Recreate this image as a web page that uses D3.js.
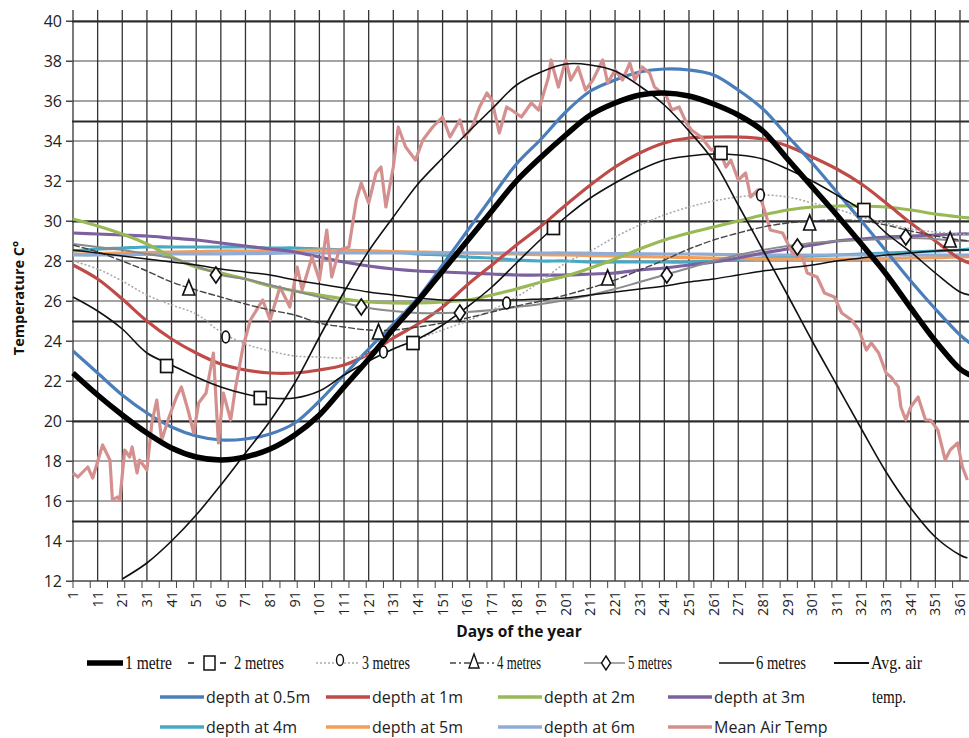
<!DOCTYPE html>
<html><head><meta charset="utf-8">
<script src="https://cdn.jsdelivr.net/npm/d3@7"></script>
<style>body{margin:0;background:#fff}svg{display:block}</style>
</head><body>
<svg id="chart" width="969" height="738"></svg>
<script>
// ---------- DATA ----------
const days = [1,11,21,31,41,51,61,71,81,91,101,111,121,131,141,151,161,171,181,191,201,211,221,231,241,251,261,271,281,291,301,311,321,331,341,351,361,365];
const depth05 = [23.5,22.4,21.3,20.4,19.7,19.25,19.05,19.1,19.35,19.9,21.0,22.3,23.6,24.85,26.15,27.8,29.5,31.2,32.85,34.1,35.45,36.5,37.05,37.45,37.6,37.55,37.3,36.55,35.6,34.25,32.9,31.45,30.0,28.5,27.0,25.6,24.3,23.9];
const depth1 = [27.8,27.1,26.1,25.0,24.1,23.4,22.85,22.55,22.4,22.4,22.55,22.8,23.35,24.15,24.85,25.7,26.8,27.8,28.8,29.75,30.8,31.8,32.7,33.4,33.9,34.15,34.2,34.2,34.1,33.75,33.2,32.6,31.85,30.9,29.9,29.0,28.1,27.9];
const depth2 = [30.1,29.75,29.35,28.85,28.2,27.7,27.4,27.1,26.75,26.5,26.3,26.1,25.95,25.9,25.9,25.95,26.05,26.3,26.6,26.95,27.25,27.65,28.1,28.6,29.05,29.4,29.7,30.0,30.3,30.55,30.7,30.75,30.75,30.7,30.55,30.35,30.2,30.15];
const depth3 = [29.4,29.35,29.3,29.25,29.15,29.05,28.9,28.75,28.6,28.45,28.2,27.95,27.75,27.6,27.5,27.45,27.4,27.35,27.3,27.3,27.3,27.35,27.4,27.55,27.65,27.8,27.95,28.15,28.4,28.6,28.8,29.0,29.1,29.2,29.25,29.3,29.35,29.35];
const depth4 = [28.5,28.6,28.65,28.7,28.7,28.7,28.7,28.7,28.65,28.65,28.6,28.55,28.5,28.45,28.35,28.3,28.2,28.15,28.05,28.0,28.0,27.95,27.95,27.95,27.95,27.95,28.0,28.05,28.15,28.2,28.25,28.3,28.35,28.4,28.45,28.5,28.55,28.6];
const depth5 = [28.35,28.37,28.4,28.42,28.45,28.47,28.5,28.5,28.5,28.52,28.55,28.52,28.5,28.47,28.45,28.42,28.4,28.37,28.35,28.32,28.3,28.27,28.25,28.22,28.2,28.17,28.15,28.12,28.1,28.1,28.1,28.1,28.1,28.12,28.15,28.17,28.2,28.2];
const depth6 = [28.3,28.3,28.32,28.33,28.35,28.35,28.36,28.37,28.38,28.4,28.4,28.4,28.4,28.4,28.4,28.4,28.4,28.4,28.4,28.4,28.4,28.38,28.37,28.36,28.35,28.35,28.33,28.32,28.3,28.3,28.3,28.3,28.3,28.3,28.3,28.3,28.3,28.3];

const airDays = [1,3,7,9,13,16,17,19,20,22,24,25,27,28,31,33,35,37,40,43,45,48,50,52,55,58,60,62,65,67,70,73,78,81,85,89,92,94,98,101,104,106,109,113,116,118,121,124,126,128,131,133,136,140,143,147,151,154,158,160,163,166,169,171,174,177,179,183,187,190,194,195,198,201,203,206,209,212,216,218,221,224,227,229,232,235,237,242,244,247,250,252,256,260,263,266,268,271,274,276,279,282,284,289,293,297,299,303,306,310,313,317,320,323,325,328,331,333,336,337,339,341,344,347,349,352,355,357,360,362,364];
const airTemp = [17.4,17.2,17.7,17.15,18.8,18.05,16.05,16.2,16.05,18.55,18.2,18.7,17.4,18.05,17.55,19.9,21.05,19.05,20.2,21.2,21.7,20.4,19.4,20.9,21.4,23.4,18.9,21.4,20.05,21.7,23.7,25.05,26.05,25.05,26.7,25.7,27.7,26.55,28.2,27.05,29.55,27.2,28.55,28.7,31.05,31.9,30.9,32.4,32.7,30.7,32.7,34.7,33.7,33.05,34.05,34.7,35.2,34.2,35.05,34.2,34.7,35.7,36.4,36.05,34.4,35.7,35.55,35.2,35.9,35.55,37.2,38.05,36.7,38.05,37.05,37.7,36.55,37.05,38.05,36.9,37.55,37.05,37.9,37.05,37.7,37.4,36.7,36.2,35.55,35.7,34.9,34.55,34.2,33.55,33.7,32.7,33.05,32.05,32.4,31.2,31.55,30.4,29.55,29.4,28.4,28.2,27.4,27.2,26.4,26.2,25.4,25.05,24.55,23.55,23.9,23.4,22.4,22.2,21.7,20.7,20.05,20.7,21.2,20.05,20.05,19.55,18.05,18.55,18.9,17.7,17.05];

// scanned (overlay) curves
const metre1 = [22.4,21.3,20.3,19.4,18.65,18.2,18.05,18.2,18.6,19.3,20.3,21.7,23.1,24.6,26.0,27.5,29.0,30.5,32.0,33.2,34.3,35.3,35.9,36.3,36.4,36.25,35.85,35.3,34.5,33.1,31.7,30.3,28.85,27.35,25.65,24.0,22.6,22.3];
const metre2 = [26.2,25.5,24.6,23.4,22.8,22.2,21.7,21.35,21.15,21.15,21.5,22.3,23.0,23.6,24.1,24.8,25.7,26.7,27.9,29.1,30.2,31.15,31.9,32.55,33.05,33.25,33.35,33.3,33.1,32.6,32.0,31.3,30.55,29.4,28.45,27.4,26.45,26.3];
const metre3 = [28.0,27.6,27.0,26.3,25.8,25.35,24.45,23.85,23.5,23.25,23.2,23.15,23.3,23.6,24.1,24.55,25.0,25.55,26.2,27.0,27.9,28.5,29.2,29.8,30.3,30.7,31.0,31.2,31.3,31.2,30.9,30.6,30.2,29.9,29.6,29.45,29.35,29.3];
const metre4 = [28.8,28.45,28.0,27.5,26.95,26.55,26.2,25.85,25.55,25.3,24.9,24.7,24.55,24.55,24.7,24.9,25.15,25.45,25.75,26.0,26.3,26.65,27.05,27.55,28.05,28.6,29.05,29.4,29.7,29.9,30.0,30.05,30.0,29.8,29.5,29.25,29.05,29.0];
const metre5 = [28.85,28.7,28.55,28.35,28.15,27.75,27.3,27.1,26.8,26.5,26.2,25.9,25.65,25.5,25.4,25.4,25.45,25.55,25.7,25.85,26.05,26.3,26.6,26.95,27.3,27.65,28.0,28.3,28.55,28.75,28.9,29.0,29.05,29.1,29.15,29.1,29.0,29.0];
const metre6 = [28.55,28.4,28.25,28.1,27.95,27.8,27.6,27.45,27.3,27.05,26.85,26.65,26.45,26.3,26.15,26.05,26.05,26.05,26.05,26.1,26.15,26.3,26.45,26.6,26.75,26.95,27.1,27.3,27.5,27.65,27.8,28.0,28.15,28.3,28.4,28.5,28.55,28.55];
const avgAirDays = [21,31,41,51,61,71,81,91,101,111,121,131,141,151,161,171,181,191,201,211,221,231,241,251,261,271,281,291,301,311,321,331,341,351,361,364];
const avgAir = [12.1,12.9,14.0,15.3,16.8,18.4,20.0,21.9,24.2,26.45,28.5,30.2,31.85,33.15,34.4,35.6,36.8,37.45,37.85,37.8,37.5,36.75,35.8,34.5,33.0,30.8,28.55,26.3,24.0,21.8,19.6,17.45,15.65,14.2,13.3,13.15];

// markers on the scanned curves
const squareDays = [39,77,139,196,264,322];
const squareVals = [22.75,21.15,23.9,29.65,33.4,30.55];
const circleDays = [63,127,177,280];
const circleVals = [24.2,23.45,25.9,31.3];
const triDays = [48,125,218,300,357];
const triVals = [26.65,24.45,27.15,29.9,29.05];
const diaDays = [59,118,158,242,295,339];
const diaVals = [27.3,25.7,25.4,27.3,28.7,29.2];

const xTickLabels = d3.range(1, 362, 10);
const yTickLabels = d3.range(12, 41, 2);

// ---------- CHART ----------
const svg = d3.select("#chart");
const x = d3.scaleLinear().domain([1, 361]).range([73, 960]);
const y = d3.scaleLinear().domain([12, 40]).range([581, 21]);
const xL = 72, xR = x(365);

const grid = svg.append("g");
grid.selectAll(".hg").data(yTickLabels).enter().append("line")
  .attr("x1", 66).attr("x2", xR).attr("y1", d => y(d)).attr("y2", d => y(d))
  .attr("stroke", "#4a4a4a").attr("stroke-width", 1.1);
grid.selectAll(".hh").data([15,20,25,30,35,40]).enter().append("line")
  .attr("x1", xL).attr("x2", xR).attr("y1", d => y(d) + 0.5).attr("y2", d => y(d) + 0.5)
  .attr("stroke", "#2a2a2a").attr("stroke-width", 2.2);
grid.selectAll(".vg").data(xTickLabels.concat([365])).enter().append("line")
  .attr("x1", d => x(d)).attr("x2", d => x(d)).attr("y1", 10).attr("y2", 581)
  .attr("stroke", "#333").attr("stroke-width", 1.3);

// axes
const yAxis = svg.append("g").attr("transform", `translate(${xL},0)`)
  .call(d3.axisLeft(y).tickValues(yTickLabels).tickSize(6).tickPadding(4));
yAxis.select(".domain").remove();
yAxis.selectAll("line").attr("stroke", "#444");
yAxis.selectAll("text").attr("font-family", "Open Sans, sans-serif").attr("font-size", 16).attr("fill", "#222");

svg.append("line").attr("x1", xL).attr("x2", xR).attr("y1", 581).attr("y2", 581)
  .attr("stroke", "#444").attr("stroke-width", 1.2);
const tickDays = d3.range(1, 366, 7);
svg.selectAll(".xt").data(tickDays).enter().append("line")
  .attr("x1", d => x(d)).attr("x2", d => x(d)).attr("y1", 581).attr("y2", 588)
  .attr("stroke", "#444").attr("stroke-width", 1);
svg.selectAll(".xl").data(xTickLabels).enter().append("text")
  .attr("transform", d => `translate(${x(d) + 5},591) rotate(-90)`)
  .attr("text-anchor", "end").attr("font-family", "Open Sans, sans-serif")
  .attr("font-size", 14.5).attr("fill", "#222").text(d => d);

svg.append("text").attr("x", 519).attr("y", 637).attr("text-anchor", "middle")
  .attr("font-family", "Open Sans, sans-serif").attr("font-weight", "bold").attr("font-size", 15.5)
  .attr("fill", "#111").text("Days of the year");
svg.append("text").attr("transform", "translate(24,298) rotate(-90)").attr("text-anchor", "middle")
  .attr("font-family", "Open Sans, sans-serif").attr("font-weight", "bold").attr("font-size", 14.5)
  .attr("fill", "#111").text("Temperature C°");

const smooth = (xs, ys) => d3.line().x((d, i) => x(xs[i])).y(d => y(d)).curve(d3.curveCatmullRom.alpha(0.5))(ys);
const straight = (xs, ys) => d3.line().x((d, i) => x(xs[i])).y(d => y(d))(ys);

const excel = [
  {name: "depth at 0.5m", vals: depth05, color: "#4a7ebb"},
  {name: "depth at 1m", vals: depth1, color: "#be4b48"},
  {name: "depth at 2m", vals: depth2, color: "#98b954"},
  {name: "depth at 3m", vals: depth3, color: "#7d60a0"},
  {name: "depth at 4m", vals: depth4, color: "#46aac5"},
  {name: "depth at 5m", vals: depth5, color: "#f59d56"},
  {name: "depth at 6m", vals: depth6, color: "#90acd6"},
];
const plot = svg.append("g");
[4,5,6,3,2,1,0].forEach(i => {
  const s = excel[i];
  plot.append("path").attr("d", smooth(days, s.vals)).attr("fill", "none")
    .attr("stroke", s.color).attr("stroke-width", 3.2);
});
plot.append("path").attr("d", straight(airDays, airTemp)).attr("fill", "none")
  .attr("stroke", "#d4908e").attr("stroke-width", 3.2).attr("stroke-linejoin", "round");

const scan = svg.append("g");
scan.append("path").attr("d", smooth(days, metre5)).attr("fill", "none").attr("stroke", "#8a8a8a").attr("stroke-width", 2);
scan.append("path").attr("d", smooth(days, metre3)).attr("fill", "none").attr("stroke", "#aaa").attr("stroke-width", 1.6).attr("stroke-dasharray", "2,2");
scan.append("path").attr("d", smooth(days, metre4)).attr("fill", "none").attr("stroke", "#444").attr("stroke-width", 1.4).attr("stroke-dasharray", "7,2");
scan.append("path").attr("d", smooth(days, metre6)).attr("fill", "none").attr("stroke", "#111").attr("stroke-width", 1.5);
scan.append("path").attr("d", smooth(days, metre2)).attr("fill", "none").attr("stroke", "#111").attr("stroke-width", 1.6);
scan.append("path").attr("d", smooth(avgAirDays, avgAir)).attr("fill", "none").attr("stroke", "#111").attr("stroke-width", 1.6);
scan.append("path").attr("d", smooth(days, metre1)).attr("fill", "none").attr("stroke", "#000").attr("stroke-width", 5.5);

const mk = svg.append("g").attr("fill", "#fff").attr("stroke", "#111").attr("stroke-width", 1.7);
mk.selectAll(".sq").data(squareDays).enter().append("rect")
  .attr("x", (d) => x(d) - 6).attr("y", (d, i) => y(squareVals[i]) - 6.5).attr("width", 12).attr("height", 13);
mk.selectAll(".ci").data(circleDays).enter().append("ellipse")
  .attr("cx", d => x(d)).attr("cy", (d, i) => y(circleVals[i])).attr("rx", 3.8).attr("ry", 5.8);
mk.selectAll(".tr").data(triDays).enter().append("path")
  .attr("d", "M0,-8L6,7L-6,7Z").attr("transform", (d, i) => `translate(${x(d)},${y(triVals[i])})`);
mk.selectAll(".di").data(diaDays).enter().append("path")
  .attr("d", "M0,-8L5.5,0L0,8L-5.5,0Z").attr("transform", (d, i) => `translate(${x(d)},${y(diaVals[i])})`);

// ---------- LEGEND ----------
const lg = svg.append("g");
const serif = "Liberation Serif, Times New Roman, serif";
const r1 = 663;
function ltext(xp, yp, t, w) {
  const tx = lg.append("text").attr("x", xp).attr("y", yp + 6).attr("font-family", serif)
    .attr("font-size", 19).attr("fill", "#111").text(t);
  if (w) tx.attr("textLength", w).attr("lengthAdjust", "spacingAndGlyphs");
}
lg.append("line").attr("x1", 87).attr("x2", 123).attr("y1", r1).attr("y2", r1).attr("stroke", "#000").attr("stroke-width", 5.5);
ltext(125, r1, "1 metre", 47);
lg.append("line").attr("x1", 188).attr("x2", 231).attr("y1", r1).attr("y2", r1).attr("stroke", "#111").attr("stroke-width", 1.5).attr("stroke-dasharray", "6,10");
lg.append("rect").attr("x", 204).attr("y", r1 - 7).attr("width", 11).attr("height", 14).attr("fill", "#fff").attr("stroke", "#111").attr("stroke-width", 1.5);
ltext(234, r1, "2 metres", 50);
lg.append("line").attr("x1", 316).attr("x2", 359).attr("y1", r1).attr("y2", r1).attr("stroke", "#aaa").attr("stroke-width", 1.5).attr("stroke-dasharray", "2,2");
lg.append("ellipse").attr("cx", 340).attr("cy", r1 - 3).attr("rx", 3.5).attr("ry", 5.5).attr("fill", "#fff").attr("stroke", "#111").attr("stroke-width", 1.4);
ltext(362, r1, "3 metres", 48);
lg.append("line").attr("x1", 450).attr("x2", 494).attr("y1", r1).attr("y2", r1).attr("stroke", "#444").attr("stroke-width", 1.4).attr("stroke-dasharray", "6,3,2,3");
lg.append("path").attr("d", "M0,-8L5,6L-5,6Z").attr("transform", `translate(474,${r1 - 1})`).attr("fill", "#fff").attr("stroke", "#111").attr("stroke-width", 1.4);
ltext(497, r1, "4 metres", 44);
lg.append("line").attr("x1", 584).attr("x2", 625).attr("y1", r1).attr("y2", r1).attr("stroke", "#8a8a8a").attr("stroke-width", 1.6);
lg.append("path").attr("d", "M0,-7L4.5,0L0,7L-4.5,0Z").attr("transform", `translate(606,${r1})`).attr("fill", "#fff").attr("stroke", "#111").attr("stroke-width", 1.4);
ltext(628, r1, "5 metres", 44);
lg.append("line").attr("x1", 719).attr("x2", 754).attr("y1", r1).attr("y2", r1).attr("stroke", "#111").attr("stroke-width", 1.5);
ltext(756, r1, "6 metres", 50);
lg.append("line").attr("x1", 834).attr("x2", 869).attr("y1", r1).attr("y2", r1).attr("stroke", "#111").attr("stroke-width", 2);
ltext(871, r1, "Avg. air", 51);
ltext(872, 697, "temp.", 34);

const rows2 = [[0, 160, 697], [1, 326, 697], [2, 498, 697], [3, 668, 697], [4, 160, 727], [5, 326, 727], [6, 498, 727]];
const items = rows2.map(([i, xp, yp]) => ({name: excel[i].name, color: excel[i].color, xp, yp}));
items.push({name: "Mean Air Temp", color: "#d4908e", xp: 668, yp: 727});
items.forEach(it => {
  lg.append("line").attr("x1", it.xp).attr("x2", it.xp + 44).attr("y1", it.yp).attr("y2", it.yp)
    .attr("stroke", it.color).attr("stroke-width", 3.5);
  lg.append("text").attr("x", it.xp + 46).attr("y", it.yp + 6).attr("font-family", "Open Sans, sans-serif")
    .attr("font-size", 16).attr("fill", "#222").text(it.name);
});
</script>
</body></html>
